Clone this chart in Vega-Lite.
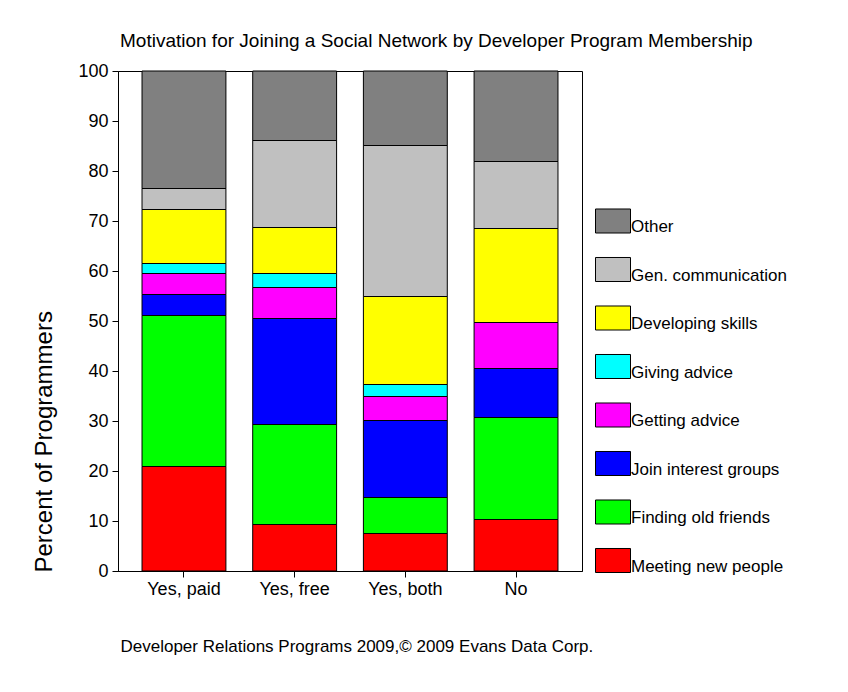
{
  "$schema": "https://vega.github.io/schema/vega-lite/v6.json",
  "width": 464,
  "height": 500,
  "autosize": "none",
  "padding": {"left": 118, "top": 71, "right": 266, "bottom": 121},
  "background": "white",
  "title": {
    "text": "Motivation for Joining a Social Network by Developer Program Membership",
    "anchor": "start",
    "frame": "group",
    "dx": 2,
    "offset": 11,
    "fontSize": 19,
    "font": "Liberation Sans",
    "fontWeight": "normal",
    "color": "black"
  },
  "config": {
    "view": {"stroke": "black", "strokeWidth": 1},
    "font": "Liberation Sans"
  },
  "data": {
    "values": [
      {"group": "Yes, paid", "motive": "Meeting new people", "k": 1, "pct": 20.9},
      {"group": "Yes, paid", "motive": "Finding old friends", "k": 2, "pct": 30.2},
      {"group": "Yes, paid", "motive": "Join interest groups", "k": 3, "pct": 4.2},
      {"group": "Yes, paid", "motive": "Getting advice", "k": 4, "pct": 4.2},
      {"group": "Yes, paid", "motive": "Giving advice", "k": 5, "pct": 2.0},
      {"group": "Yes, paid", "motive": "Developing skills", "k": 6, "pct": 10.8},
      {"group": "Yes, paid", "motive": "Gen. communication", "k": 7, "pct": 4.2},
      {"group": "Yes, paid", "motive": "Other", "k": 8, "pct": 23.5},
      {"group": "Yes, free", "motive": "Meeting new people", "k": 1, "pct": 9.3},
      {"group": "Yes, free", "motive": "Finding old friends", "k": 2, "pct": 20.0},
      {"group": "Yes, free", "motive": "Join interest groups", "k": 3, "pct": 21.2},
      {"group": "Yes, free", "motive": "Getting advice", "k": 4, "pct": 6.2},
      {"group": "Yes, free", "motive": "Giving advice", "k": 5, "pct": 2.8},
      {"group": "Yes, free", "motive": "Developing skills", "k": 6, "pct": 9.2},
      {"group": "Yes, free", "motive": "Gen. communication", "k": 7, "pct": 17.4},
      {"group": "Yes, free", "motive": "Other", "k": 8, "pct": 13.9},
      {"group": "Yes, both", "motive": "Meeting new people", "k": 1, "pct": 7.5},
      {"group": "Yes, both", "motive": "Finding old friends", "k": 2, "pct": 7.2},
      {"group": "Yes, both", "motive": "Join interest groups", "k": 3, "pct": 15.4},
      {"group": "Yes, both", "motive": "Getting advice", "k": 4, "pct": 4.8},
      {"group": "Yes, both", "motive": "Giving advice", "k": 5, "pct": 2.4},
      {"group": "Yes, both", "motive": "Developing skills", "k": 6, "pct": 17.6},
      {"group": "Yes, both", "motive": "Gen. communication", "k": 7, "pct": 30.2},
      {"group": "Yes, both", "motive": "Other", "k": 8, "pct": 14.9},
      {"group": "No", "motive": "Meeting new people", "k": 1, "pct": 10.3},
      {"group": "No", "motive": "Finding old friends", "k": 2, "pct": 20.4},
      {"group": "No", "motive": "Join interest groups", "k": 3, "pct": 9.8},
      {"group": "No", "motive": "Getting advice", "k": 4, "pct": 9.2},
      {"group": "No", "motive": "Developing skills", "k": 6, "pct": 18.8},
      {"group": "No", "motive": "Gen. communication", "k": 7, "pct": 13.4},
      {"group": "No", "motive": "Other", "k": 8, "pct": 18.1}
    ]
  },
  "mark": {"type": "bar", "stroke": "black", "strokeWidth": 1},
  "encoding": {
    "x": {
      "field": "group",
      "type": "nominal",
      "sort": ["Yes, paid", "Yes, free", "Yes, both", "No"],
      "scale": {"paddingInner": 0.242, "paddingOuter": 0.217},
      "axis": {
        "title": "Developer Relations Programs 2009,© 2009 Evans Data Corp.",
        "titleAnchor": "start",
        "titleAlign": "left",
        "titleX": 2,
        "titleY": 75,
        "titleBaseline": "middle",
        "titleFontSize": 17,
        "titleFontWeight": "normal",
        "titleColor": "black",
        "labelAngle": 0,
        "labelFontSize": 18,
        "labelColor": "black",
        "labelPadding": 3,
        "tickSize": 6,
        "tickColor": "black",
        "domainColor": "black",
        "grid": false
      }
    },
    "y": {
      "field": "pct",
      "type": "quantitative",
      "stack": "zero",
      "scale": {"domain": [0, 100], "nice": false},
      "axis": {
        "title": "Percent of Programmers",
        "titleAnchor": "start",
        "titleAlign": "left",
        "titleX": -74,
        "titleY": 501,
        "titleBaseline": "middle",
        "titleFontSize": 24,
        "titleFontWeight": "normal",
        "titleColor": "black",
        "values": [0, 10, 20, 30, 40, 50, 60, 70, 80, 90, 100],
        "labelFontSize": 18,
        "labelColor": "black",
        "labelPadding": 4,
        "tickSize": 6,
        "tickColor": "black",
        "domainColor": "black",
        "grid": false
      }
    },
    "color": {
      "field": "motive",
      "type": "nominal",
      "scale": {
        "domain": ["Other", "Gen. communication", "Developing skills", "Giving advice", "Getting advice", "Join interest groups", "Finding old friends", "Meeting new people"],
        "range": ["#808080", "#C0C0C0", "#FFFF00", "#00FFFF", "#FF00FF", "#0000FF", "#00FF00", "#FF0000"]
      },
      "legend": {
        "title": null,
        "orient": "none",
        "legendX": 477,
        "legendY": 132,
        "symbolType": "M-1,-0.686H1V0.686H-1Z",
        "symbolSize": 1225,
        "symbolStrokeColor": "black",
        "symbolStrokeWidth": 1,
        "symbolOpacity": 1,
        "labelFontSize": 17,
        "labelColor": "black",
        "labelOffset": 0,
        "rowPadding": 15.5,
        "encode": {"labels": {"update": {"dy": {"value": 6}}}}
      }
    },
    "order": {"field": "k", "type": "quantitative"}
  }
}
